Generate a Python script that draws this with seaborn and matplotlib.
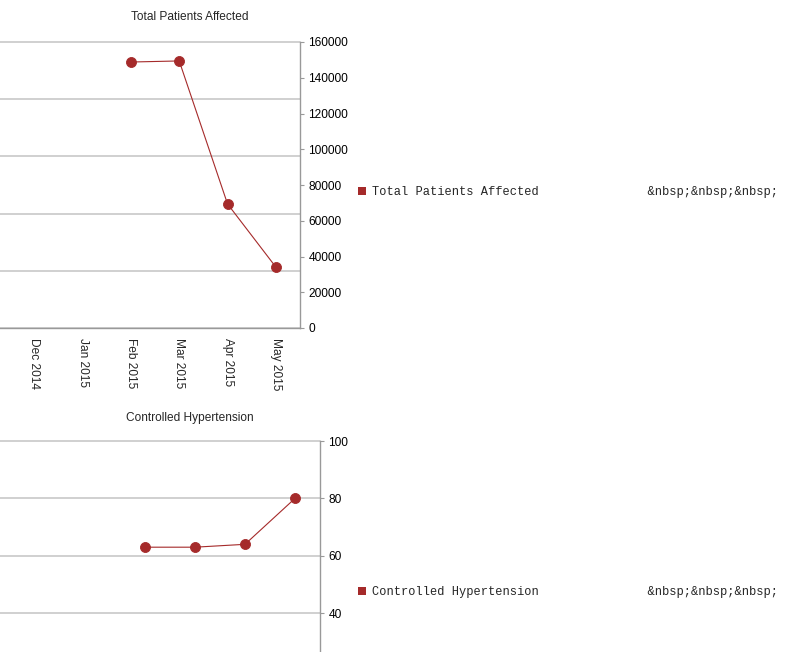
import numpy as np
import matplotlib
matplotlib.use("Agg")
import matplotlib.pyplot as plt
from matplotlib.lines import Line2D
from matplotlib.ticker import MultipleLocator, FixedLocator
import seaborn as sns

months = ["Dec 2014", "Jan 2015", "Feb 2015", "Mar 2015", "Apr 2015", "May 2015"]
patients = [np.nan, np.nan, 148800, 149400, 69400, 34100]
hypertension = [np.nan, np.nan, 63, 63, 64, 80]

patient_ticks = np.arange(0, 160001, 20000)
hyper_ticks = [40, 60, 80, 100]  # 0 and 20 fall below the visible area

RED = "#a52a2a"
GRID = "#c8c8c8"
AXIS = "#999999"

sns.set_style("white")
plt.rcParams["font.family"] = ["Liberation Sans", "DejaVu Sans"]

W, H = 810, 652
fig = plt.figure(figsize=(W / 100, H / 100), dpi=100)


def box(l, t, r, b):
    return [l / W, 1 - b / H, (r - l) / W, (b - t) / H]


def style_chart(ax, values, title, ymax, yticks, gstep, xleft, title_y, leg_y,
                show_xlabels=True):
    sns.pointplot(x=months, y=values, order=months, color=RED, errorbar=None,
                  markers="o", linestyles="-", markersize=7.2, linewidth=0.8,
                  ax=ax)
    ax.set_xlim(xleft, 5.5)
    ax.set_ylim(0, ymax)
    ax.set_xlabel("")
    ax.set_ylabel("")

    for s in ["left", "top"]:
        ax.spines[s].set_visible(False)
    for s in ["right", "bottom"]:
        ax.spines[s].set_color(AXIS)
        ax.spines[s].set_linewidth(1)

    # gridlines follow their own spacing, independent of the tick labels
    ax.yaxis.tick_right()
    ax.yaxis.remove_overlapping_locs = False
    ax.yaxis.set_major_locator(FixedLocator(yticks))
    ax.yaxis.set_minor_locator(MultipleLocator(gstep))
    ax.grid(False)
    ax.yaxis.grid(True, which="minor", color=GRID, linewidth=1.2)
    for t in ax.yaxis.get_minor_ticks():
        t.gridline.set_clip_on(False)
    ax.set_axisbelow(True)
    ax.tick_params(axis="y", which="major", length=3, width=0.8, color=AXIS,
                   pad=3, labelsize=8.6, labelcolor="black")
    ax.tick_params(axis="y", which="minor", length=0)

    ax.xaxis.set_minor_locator(FixedLocator(np.arange(-0.5, 6, 1)))
    ax.tick_params(axis="x", which="major", length=0, pad=7, labelsize=8.6,
                   labelrotation=-90, labelbottom=show_xlabels)
    ax.tick_params(axis="x", which="minor", length=4, width=0.8, color=AXIS)
    for lab in ax.get_xticklabels():
        lab.set_va("top")
        lab.set_ha("center")

    fig.text(190 / W, 1 - title_y / H, title, ha="center", va="center",
             fontsize=8.6)

    handle = Line2D([], [], marker="s", color=RED, linestyle="",
                    markersize=5.8, markeredgewidth=0)
    label = title + " " * 15 + "&nbsp;&nbsp;&nbsp;"
    ax.legend([handle], [label], loc="center left",
              bbox_to_anchor=(358 / W, 1 - leg_y / H),
              bbox_transform=fig.transFigure, frameon=False, borderpad=0,
              borderaxespad=0, handlelength=0.7, handletextpad=0.45,
              prop={"family": "Liberation Mono", "size": 8.64})


ax1 = fig.add_axes(box(0, 42, 300, 328))
style_chart(ax1, patients, "Total Patients Affected", 160000, patient_ticks,
            32000, -0.71, 17.5, 192)

# the lower chart runs past the bottom edge, its month labels are not visible
ax2 = fig.add_axes(box(0, 441, 320, 728))
style_chart(ax2, hypertension, "Controlled Hypertension", 100, hyper_ticks,
            20, -0.9, 417.5, 592, show_xlabels=False)

fig.savefig("out.png", dpi=100)
